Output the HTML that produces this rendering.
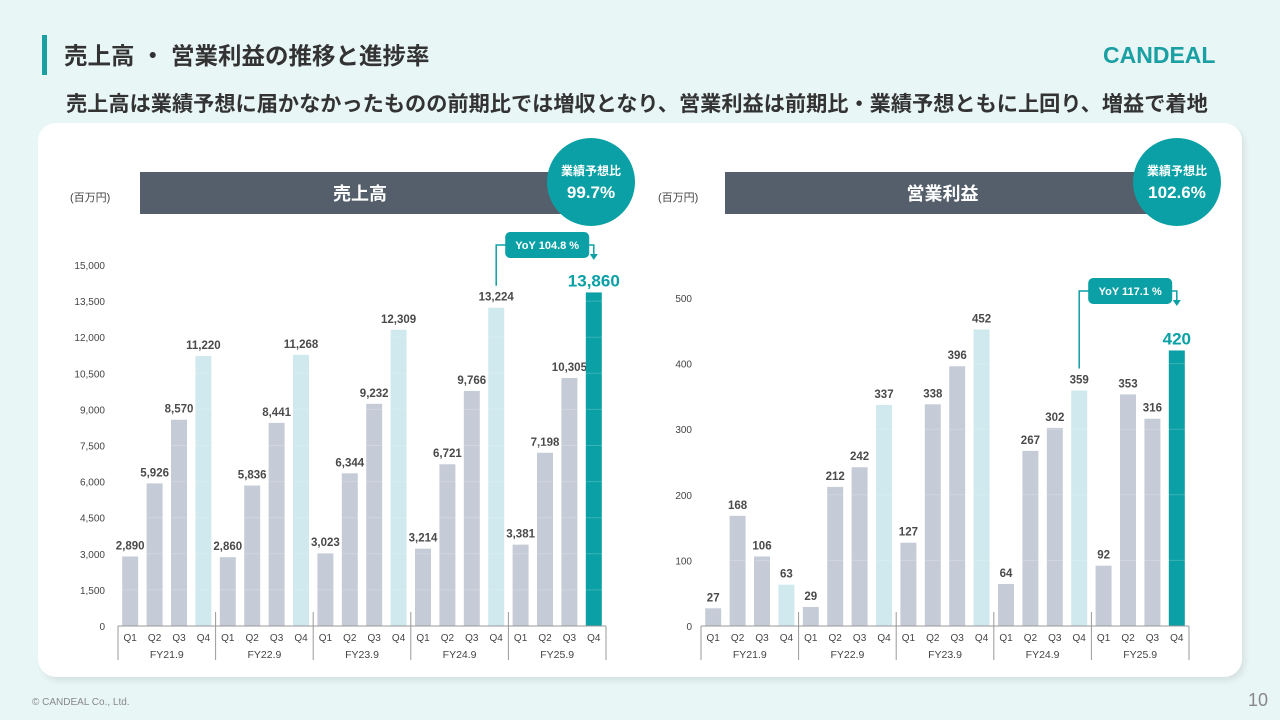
<!DOCTYPE html>
<html><head><meta charset="utf-8">
<style>
body{margin:0;width:1280px;height:720px;background:#e9f6f6;font-family:"Liberation Sans","Noto Sans CJK JP",sans-serif;position:relative;overflow:hidden}
.abs{position:absolute}
</style></head>
<body>
<div class="abs" style="left:42px;top:35px;width:5px;height:40px;background:#1aa0a3"></div>
<div class="abs" style="left:64px;top:37px;font-size:23.5px;font-weight:bold;color:#333;white-space:nowrap">売上高 ・ 営業利益の推移と進捗率</div>
<div class="abs" style="left:1103px;top:42px;font-size:23px;font-weight:bold;color:#1aa0a3;letter-spacing:0px">CANDEAL</div>
<div class="abs" style="left:66px;top:87px;font-size:21.2px;font-weight:bold;color:#333;white-space:nowrap">売上高は業績予想に届かなかったものの前期比では増収となり、営業利益は前期比・業績予想ともに上回り、増益で着地</div>
<div class="abs" style="left:38px;top:123px;width:1204px;height:554px;background:#fff;border-radius:18px;box-shadow:3px 4px 6px rgba(0,0,0,0.08)"></div>
<div class="abs" style="left:32px;top:697px;font-size:10px;color:#888">© CANDEAL Co., Ltd.</div>
<div class="abs" style="left:1248px;top:690px;font-size:18px;color:#888">10</div>
<svg class="abs" style="left:0;top:0" width="1280" height="720" id="svg"></svg>
<script>
const quarters=["Q1","Q2","Q3","Q4"];
const years=["FY21.9","FY22.9","FY23.9","FY24.9","FY25.9"];
const salesValues=[2890,5926,8570,11220,2860,5836,8441,11268,3023,6344,9232,12309,3214,6721,9766,13224,3381,7198,10305,13860];
const salesTicks=[0,1500,3000,4500,6000,7500,9000,10500,12000,13500,15000];
const profitValues=[27,168,106,63,29,212,242,337,127,338,396,452,64,267,302,359,92,353,316,420];
const profitTicks=[0,100,200,300,400,500];
const NS="http://www.w3.org/2000/svg";
const svg=document.getElementById('svg');
function el(t,a,txt){const e=document.createElementNS(NS,t);for(const k in a)e.setAttribute(k,a[k]);if(txt!==undefined)e.textContent=txt;svg.appendChild(e);return e;}
function chart(o){
 const y=v=>626-(v/o.max)*o.h;
 const slot=(o.x1-o.x0)/20;
 const x=i=>o.x0+slot*i+slot/2;
 o.ticks.forEach(t=>{
  const e=el('text',{x:o.tx,y:y(t)+4,'font-size':10,fill:'#444','text-anchor':'end'},t.toLocaleString('en-US'));
  
 });
 o.vals.forEach((v,i)=>{
  const last=i===19,q4=i%4===3;
  const r=el('rect',{x:x(i)-8,y:y(v),width:16,height:626-y(v),fill:last?'#0aa0a5':(q4?'#cfe9ee':'#c6ccd7')});
  
  const l=el('text',{x:x(i),y:y(v)-(last?6:7),'font-size':last?17:11.5,'font-weight':'bold',fill:last?'#0aa0a5':'#4a4a4a','text-anchor':'middle'},v.toLocaleString('en-US'));
  
  const q=el('text',{x:x(i),y:641,'font-size':10,fill:'#444','text-anchor':'middle'},quarters[i%4]);
  
 });
 o.ticks.forEach(t=>{if(t>0){const g=el('line',{x1:o.x0,x2:o.x1,y1:y(t),y2:y(t),stroke:'#fff','stroke-opacity':0.2,'stroke-width':1});}});
 const ax=el('line',{x1:o.x0,x2:o.x1,y1:626,y2:626,stroke:'#999','stroke-width':1});
 
 for(let g=0;g<=5;g++){const gx=o.x0+slot*4*g;
  const s=el('line',{x1:gx,x2:gx,y1:(g==0||g==5)?626:612,y2:660,stroke:'#999','stroke-width':1});
  }
 years.forEach((yr,g)=>{const t=el('text',{x:o.x0+slot*(4*g+2),y:658,'font-size':10.5,fill:'#444','text-anchor':'middle'},yr);
  });
 const xa=x(15),xb=x(19);
 const ya=y(o.vals[15])-22;
 const by=o.boxY;
 const p=el('polyline',{points:`${xa},${ya} ${xa},${by+13} ${xb-8},${by+13}`,fill:'none',stroke:'#0aa0a5','stroke-width':1.5});
 
 const p2=el('polyline',{points:`${xb-14},${by+13} ${xb},${by+13} ${xb},${by+24}`,fill:'none',stroke:'#0aa0a5','stroke-width':1.5});
 
 const ah=el('polygon',{points:`${xb-4},${by+22} ${xb+4},${by+22} ${xb},${by+28}`,fill:'#0aa0a5'});
 
 const b=el('rect',{x:xa+9,y:by,width:84,height:26,rx:5,fill:'#0aa0a5'});
 
 const bt=el('text',{x:xa+51,y:by+17,'font-size':11,'font-weight':'bold',fill:'#fff','text-anchor':'middle'},o.yoy);
 
 const h=el('rect',{x:o.hx,y:172,width:o.hw,height:42,fill:'#555f6b'});
 
 const ht=el('text',{x:o.hx+o.hw/2-10,y:200,'font-size':18,'font-weight':'bold',fill:'#fff','text-anchor':'middle'},o.title);
 
 const u=el('text',{x:o.ux,y:201,'font-size':11,fill:'#444'},'(百万円)');
 
 const c=el('circle',{cx:o.cx,cy:182,r:44,fill:'#0aa0a5'});
 
 const c1=el('text',{x:o.cx,y:175,'font-size':12,'font-weight':'bold',fill:'#fff','text-anchor':'middle'},'業績予想比');
 
 const c2=el('text',{x:o.cx,y:198,'font-size':17,'font-weight':'bold',fill:'#fff','text-anchor':'middle'},o.ratio);
 
}
chart({id:'sales',vals:salesValues,ticks:salesTicks,max:15000,h:361,x0:118,x1:606,tx:105,boxY:232,yoy:'YoY 104.8 %',hx:140,hw:460,title:'売上高',ux:70,cx:591,ratio:'99.7%'});
chart({id:'profit',vals:profitValues,ticks:profitTicks,max:500,h:328,x0:701,x1:1189,tx:692,boxY:278,yoy:'YoY 117.1 %',hx:725,hw:455,title:'営業利益',ux:658,cx:1177,ratio:'102.6%'});
</script>
</body></html>
